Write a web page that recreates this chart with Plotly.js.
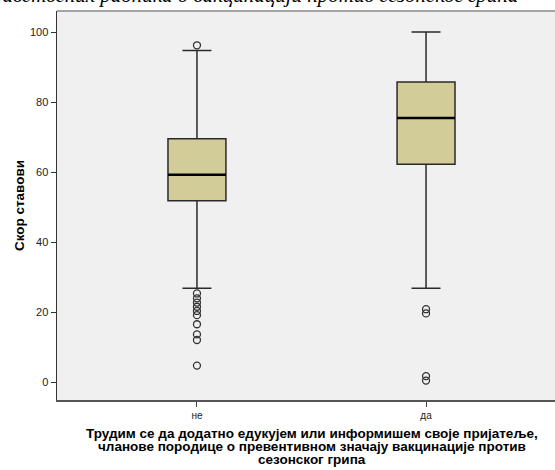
<!DOCTYPE html>
<html>
<head>
<meta charset="utf-8">
<script src="https://cdn.plot.ly/plotly-3.0.1.min.js"></script>
<style>
html,body{margin:0;padding:0;background:#fff;overflow:hidden;}
#chart{width:555px;height:470px;}
</style>
</head>
<body>
<div id="chart"></div>
<script>
// Categories (x axis)
const categories = ['не', 'да'];
// Box statistics per category
const q1Vals = [51.8, 62.2];
const medianVals = [59.2, 75.4];
const q3Vals = [69.5, 85.7];
const lowerWhisker = [26.8, 26.8];
const upperWhisker = [94.7, 100];
// Outliers
const outliersNe = [96.2, 25.3, 23.9, 22.7, 21.5, 20.3, 19.1, 16.5, 13.6, 12.0, 4.7];
const outliersDa = [20.8, 19.6, 1.7, 0.4];
const yTicks = [0, 20, 40, 60, 80, 100];

const titleText = 'Ставови здравствених радника о вакцинацији против сезонског грипа';
const xTitleLines = [
  'Трудим се да додатно едукујем или информишем своје пријатеље,',
  'чланове породице о превентивном значају вакцинације против',
  'сезонског грипа'
];
const yTitle = 'Скор ставови';

const boxTrace = {
  type: 'box',
  x: categories,
  q1: q1Vals,
  median: medianVals,
  q3: q3Vals,
  lowerfence: lowerWhisker,
  upperfence: upperWhisker,
  width: 0.253,
  whiskerwidth: 0.5,
  fillcolor: 'rgb(210,204,152)',
  line: {color: '#2a2a2a', width: 1.5},
  hoverinfo: 'skip',
  showlegend: false
};
const medianTrace = {
  type: 'box',
  x: categories,
  q1: medianVals,
  median: medianVals,
  q3: medianVals,
  lowerfence: medianVals,
  upperfence: medianVals,
  width: 0.253,
  whiskerwidth: 0,
  fillcolor: 'rgba(0,0,0,0)',
  line: {color: '#000', width: 2.5},
  hoverinfo: 'skip',
  showlegend: false
};
const outX = outliersNe.map(() => categories[0]).concat(outliersDa.map(() => categories[1]));
const outY = outliersNe.concat(outliersDa);
const outTrace = {
  type: 'scatter',
  mode: 'markers',
  x: outX,
  y: outY,
  marker: {symbol: 'circle-open', size: 7, color: '#333', line: {width: 1.3, color: '#333'}},
  hoverinfo: 'skip',
  showlegend: false,
  cliponaxis: false
};

const plotH = 470 - 11 - 70;
const titleFont = {size: 13.5, color: '#000', family: 'Liberation Sans, Arial, sans-serif', weight: 'bold'};
const xTitleCenters = [433, 446, 459];
const xTitleAnns = xTitleLines.map((t, i) => ({
  text: t, xref: 'paper', yref: 'paper',
  x: (312 - 57) / (555 - 57), y: (400 - xTitleCenters[i]) / plotH,
  xanchor: 'center', yanchor: 'middle', showarrow: false, font: titleFont
}));

const layout = {
  width: 555,
  height: 470,
  margin: {l: 57, r: 0, t: 11, b: 70},
  paper_bgcolor: '#fff',
  plot_bgcolor: '#f0f0f0',
  showlegend: false,
  font: {family: 'Liberation Sans, Arial, sans-serif', color: '#222'},
  xaxis: {
    type: 'category',
    categoryorder: 'array',
    categoryarray: categories,
    range: [-0.611, 1.563],
    showline: true, linecolor: '#555', linewidth: 2,
    ticks: 'outside', ticklen: 5, tickcolor: '#444', tickwidth: 1,
    tickfont: {size: 10, color: '#222'},
    showgrid: false, zeroline: false
  },
  yaxis: {
    range: [-5.14, 106],
    tickvals: yTicks,
    showline: true, linecolor: '#333', linewidth: 1.5,
    ticks: 'outside', ticklen: 5, tickcolor: '#333', tickwidth: 1,
    tickfont: {size: 11, color: '#222'},
    showgrid: false, zeroline: false,
    title: {text: yTitle, font: titleFont, standoff: 2}
  },
  shapes: [
    {type: 'line', xref: 'paper', yref: 'paper', x0: 0, x1: 1, y0: 1, y1: 1, line: {color: '#8a8a8a', width: 1.5}}
  ],
  annotations: [
    {text: titleText, xref: 'paper', yref: 'paper', x: 0.93, y: 1.006, xanchor: 'right', yanchor: 'bottom',
     showarrow: false, font: {family: 'Liberation Serif, Times New Roman, serif', size: 21, color: '#000', style: 'italic'}}
  ].concat(xTitleAnns)
};

Plotly.newPlot('chart', [boxTrace, medianTrace, outTrace], layout, {displayModeBar: false, staticPlot: true});
</script>
</body>
</html>
